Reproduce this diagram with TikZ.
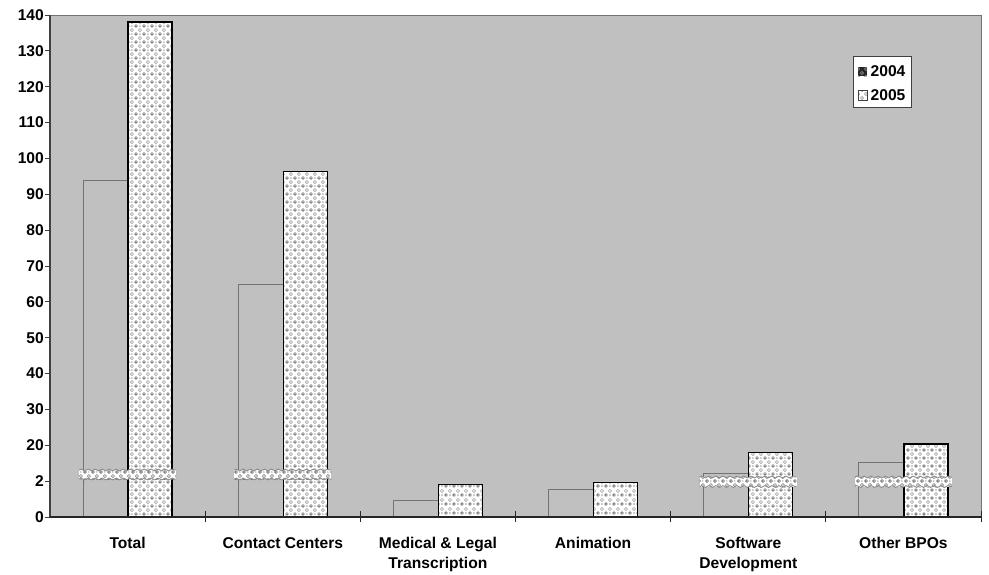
\documentclass[tikz,border=0pt]{standalone}
\usepackage{fontspec}
\setmainfont{Liberation Sans}
\usetikzlibrary{patterns,decorations.pathmorphing}
\definecolor{plotbg}{HTML}{C0C0C0}
\definecolor{axiscol}{HTML}{404040}
\pgfdeclarepatternformonly{ringp}{\pgfqpoint{0pt}{0pt}}{\pgfqpoint{8.4pt}{8.4pt}}{\pgfqpoint{8.4pt}{8.4pt}}{%
  \pgfsetlinewidth{0.8pt}%
  \pgfpathcircle{\pgfqpoint{2.1pt}{2.1pt}}{1.7pt}\pgfusepath{stroke}%
  \pgfpathcircle{\pgfqpoint{6.3pt}{6.3pt}}{1.7pt}\pgfusepath{stroke}}
\pgfdeclarepatternformonly{dotp}{\pgfqpoint{0pt}{0pt}}{\pgfqpoint{8.4pt}{8.4pt}}{\pgfqpoint{8.4pt}{8.4pt}}{%
  \pgfpathcircle{\pgfqpoint{2.1pt}{2.1pt}}{0.8pt}\pgfusepath{fill}%
  \pgfpathcircle{\pgfqpoint{6.3pt}{2.1pt}}{0.6pt}\pgfusepath{fill}}
\tikzset{
  lab/.style={font=\bfseries\fontsize{15.6}{15.6}\selectfont, inner sep=0pt},
  ylab/.style={lab, anchor=east},
  clab/.style={lab, anchor=base},
  oldbar/.style={fill=plotbg, draw=black!55, line width=0.8pt},
  newbarline/.style={draw=black, line width=1.3pt},
  wave/.style={draw=black!45, line width=0.9pt, decorate,
    decoration={snake, amplitude=0.9pt, segment length=7pt}},
}
\begin{document}
\begin{tikzpicture}[x=1pt,y=-1pt]
\useasboundingbox (0,0) rectangle (989,574);
% plot area
\fill[plotbg] (50,15) rectangle (981,517);
\draw[black!55, line width=0.8pt] (50,15) -- (981,15) -- (981,517);
% bars
\foreach \i/\va/\vb/\br in {0/94/138/1, 1/65/96.3/1, 2/4.7/9.1/0, 3/7.7/9.6/0, 4/12.2/18/2, 5/15.2/20.4/2}{
  \pgfmathsetmacro{\c}{50+155.17*\i}
  \pgfmathsetmacro{\ya}{517-\va*3.586}
  \pgfmathsetmacro{\yb}{517-\vb*3.586}
  \draw[oldbar] ({\c+33},517) -- ({\c+33},\ya) -- ({\c+78},\ya) -- ({\c+78},517);
  \draw[black!80, line width=1.2pt, dash pattern=on 2pt off 1.5pt] ({\c+34},516.5) -- ({\c+77},516.5);
  \fill[white] ({\c+78},517) rectangle ({\c+122},\yb);
  \fill[pattern=ringp, pattern color=black!30] ({\c+78},517) rectangle ({\c+122},\yb);
  \fill[pattern=dotp, pattern color=black!85] ({\c+78},517) rectangle ({\c+122},\yb);
  \draw[newbarline] ({\c+78},517) -- ({\c+78},\yb) -- ({\c+122},\yb) -- ({\c+122},517);
  \ifnum\br>0
    \ifnum\br=1 \def\ba{470}\def\bb{479}\else \def\ba{477}\def\bb{486.5}\fi
    \fill[white] ({\c+29},\ba) rectangle ({\c+126},\bb);
    \fill[pattern=ringp, pattern color=black!40] ({\c+29},\ba) rectangle ({\c+126},\bb);
    \fill[pattern=dotp, pattern color=black!80] ({\c+29},\ba) rectangle ({\c+126},\bb);
    \draw[wave] ({\c+29},\ba) -- ({\c+126},\ba);
    \draw[wave] ({\c+29},\bb) -- ({\c+126},\bb);
  \fi
}
% axes
\draw[axiscol, line width=1.6pt] (50,15) -- (50,517);
\draw[black!85, line width=1.2pt] (50,517) -- (981,517);
\foreach \y in {15,50.86,86.72,122.58,158.44,194.3,230.16,266.02,301.88,337.74,373.6,409.46,445.32,481.18,517}
  \draw[axiscol, line width=1pt] (45,\y) -- (50,\y);
\foreach \i in {1,...,6}
  \draw[black!85, line width=1pt] ({50+155.17*\i},511) -- ({50+155.17*\i},522);
% y labels
\node[ylab] (y140) at (44,15) {140};
\node[ylab] (y130) at (44,50.86) {130};
\node[ylab] (y120) at (44,86.72) {120};
\node[ylab] (y110) at (44,122.58) {110};
\node[ylab] (y100) at (44,158.44) {100};
\node[ylab] (y90) at (44,194.3) {90};
\node[ylab] (y80) at (44,230.16) {80};
\node[ylab] (y70) at (44,266.02) {70};
\node[ylab] (y60) at (44,301.88) {60};
\node[ylab] (y50) at (44,337.74) {50};
\node[ylab] (y40) at (44,373.6) {40};
\node[ylab] (y30) at (44,409.46) {30};
\node[ylab] (y20) at (44,445.32) {20};
\node[ylab] (y2) at (44,481.18) {2};
\node[ylab] (y0) at (44,517) {0};
% category labels
\node[clab] (c1) at (127.6,548) {Total};
\node[clab] (c2) at (282.8,548) {Contact Centers};
\node[clab] (c3a) at (437.9,548) {Medical \& Legal};
\node[clab] (c3b) at (437.9,568) {Transcription};
\node[clab] (c4) at (593.1,548) {Animation};
\node[clab] (c5a) at (748.3,548) {Software};
\node[clab] (c5b) at (748.3,568) {Development};
\node[clab] (c6) at (903.4,548) {Other BPOs};
% legend
\draw[fill=white, draw=black!75, line width=0.8pt] (853,56.5) rectangle (911,107);
\fill[black!85] (858,67) rectangle (867,76);
\fill[pattern=ringp, pattern color=black!50] (858,67) rectangle (867,76);
\fill[white] (858,90) rectangle (867,100);
\fill[pattern=ringp, pattern color=black!35] (858,90) rectangle (867,100);
\draw[black!75, line width=0.8pt] (858,90) rectangle (867,100);
\node[lab, anchor=west] (l2004) at (870.5,71.5) {2004};
\node[lab, anchor=west] (l2005) at (870.5,95) {2005};
\end{tikzpicture}
\end{document}
